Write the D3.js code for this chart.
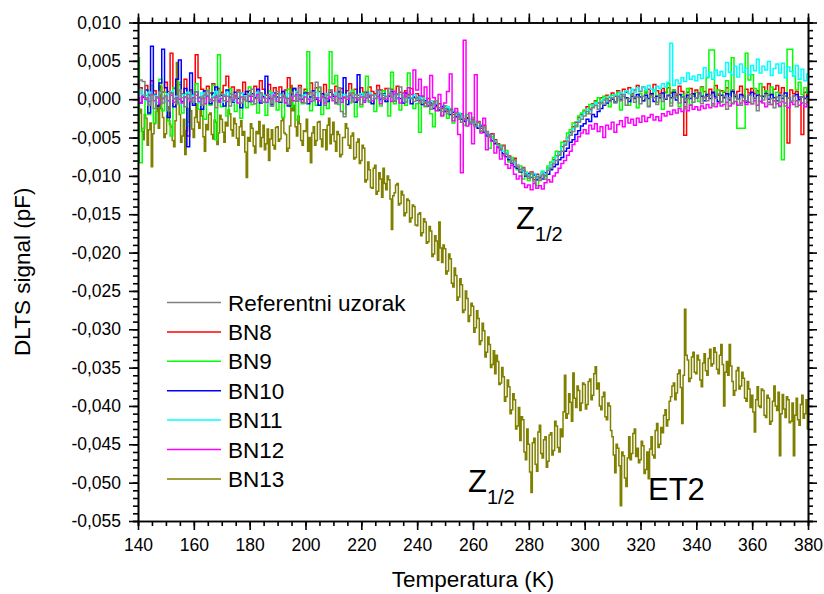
<!DOCTYPE html>
<html>
<head>
<meta charset="utf-8">
<script src="https://cdn.jsdelivr.net/npm/d3@7"></script>
<style>
  body { margin: 0; background: #fff; }
  svg { font-family: "Liberation Sans", Arial, sans-serif; }
  .axis path, .axis line { stroke: #000; stroke-width: 1.6; }
  .axis text { font-size: 17.5px; fill: #000; }
</style>
</head>
<body>
<div id="chart"></div>
<script>
// temperature grids (K): the sample set is read every 1 K, BN13 every 0.5 K
var temps = d3.range(140, 381, 1);
var tempsBN13 = d3.range(140, 380.5, 0.5);

// DLTS signal, in units of 0.001 pF
var refUzorak = [
  1.5, 2.5, 2.3, 0.2, -0.8, 0.5, -1.2, 0.3, 1.0, -0.5,
  0.4, -1.5, 0.8, 0.1, -0.6, 1.2, 0.2, -1.0, 0.6, 0.0,
  -0.4, 0.9, 0.3, -0.8, 0.5, 1.1, -0.3, 0.2, -1.1, 0.4,
  0.7, -0.2, 0.4, -0.9, 0.6, 0.1, 1.0, -0.5, 0.3, -0.2,
  0.5, 1.3, -0.6, 0.2, 0.8, -0.4, 0.1, 0.6, -0.9, 0.3,
  1.0, -0.3, 0.5, 0.2, -0.7, 0.9, 0.4, -0.2, 1.5, 0.1,
  -0.5, 0.6, 0.9, -0.2, 2.2, 1.6, 0.2, -0.8, 0.5, 1.2,
  0.1, -0.6, 1.5, -1.6, -2.3, 0.4, 0.8, -0.3, 0.6, 0.2,
  -0.7, 0.3, 1.0, -0.2, 0.5, 0.1, 1.2, 0.7, 0.0, 0.4,
  1.4, 0.3, -0.2, 0.6, 1.6, 0.2, -0.4, 0.5, 0.1, -0.3,
  0.2, -0.5, -0.1, -0.9, -0.4, -1.3, -0.6, -0.2, -1.1, -1.6,
  -1.2, -1.9, -1.5, -2.4, -1.8, -2.2, -3.0, -2.5, -2.0, -3.1,
  -2.8, -3.5, -3.0, -4.1, -3.6, -4.4, -5.0, -4.6, -5.6, -5.9,
  -6.5, -6.1, -7.2, -7.6, -8.3, -7.9, -8.8, -9.4, -9.0, -9.9,
  -10.3, -9.6, -10.8, -10.1, -10.6, -9.9, -10.4, -9.3, -9.0, -8.4,
  -8.0, -7.3, -6.8, -6.0, -5.5, -4.7, -4.2, -3.5, -3.0, -2.6,
  -2.2, -1.6, -1.9, -1.1, -0.8, -1.3, -0.4, -0.7, 0.1, -0.3,
  0.2, -0.5, 0.4, -0.2, 0.6, -0.8, 0.1, 0.5, -0.4, 0.3,
  -0.6, 0.4, 0.1, -1.0, 0.5, 0.2, -0.7, 0.6, -0.3, 0.1,
  0.4, -0.9, 0.2, 0.7, -0.5, 0.3, -1.2, 0.1, 0.6, -0.4,
  0.2, 0.8, -0.6, 0.3, -0.2, 0.5, -0.9, 0.1, 0.7, -0.3,
  0.4, -1.3, 0.2, -0.5, 0.6, 0.0, -0.8, 0.3, -0.2, 0.5,
  -0.6, 0.2, -1.5, 0.4, -0.1, 0.6, -0.7, 0.1, -1.1, 0.3,
  -0.4, 0.5, -0.9, 0.2, -0.3, 0.4, -1.0, -0.2, 0.3, -0.6,
  0.1
];
var bn8 = [
  0.8, 1.5, 0.3, 1.8, 0.5, 2.4, 1.1, 0.2, 1.6, 0.9,
  2.2, 1.0, 6.0, 1.4, 0.4, 1.9, 0.7, 2.6, -4.8, 1.2,
  0.6, 5.8, 2.8, 1.3, 0.2, 1.7, 0.8, 2.0, 0.5, 1.4,
  0.9, 1.8, 3.0, 0.7, 1.6, 0.3, 1.2, 0.8, 2.2, 0.6,
  1.1, 0.4, 1.7, 0.9, 2.4, 1.3, 0.5, 1.9, 0.8, 1.5,
  0.7, 1.6, 0.3, 1.2, 2.8, 0.6, 1.4, 0.9, 1.8, 0.4,
  1.3, 0.8, 2.1, 0.5, 1.5, 1.0, 0.3, 1.9, 0.7, 1.2,
  0.6, 1.7, 0.9, 1.4, 0.2, 1.1, 2.0, 0.8, 1.3, 0.5,
  1.5, 0.9, 0.4, 1.6, 1.0, 0.7, 1.8, 1.2, 0.5, 1.4,
  0.8, 1.3, 0.6, 1.7, 0.9, 0.3, 1.1, 0.6, 1.4, 0.2,
  0.7, -0.2, 0.4, -0.5, 0.1, -0.8, -0.3, -1.0, -0.6, -1.2,
  -0.9, -1.6, -1.3, -2.0, -1.7, -2.3, -1.9, -2.7, -2.4, -3.0,
  -2.6, -3.3, -2.9, -3.8, -3.4, -4.2, -4.8, -4.5, -5.3, -5.8,
  -6.2, -6.0, -7.0, -7.4, -8.0, -7.7, -8.6, -9.1, -8.9, -9.7,
  -10.0, -9.5, -10.5, -9.8, -10.2, -9.6, -9.9, -9.0, -8.6, -7.9,
  -7.4, -6.9, -6.2, -5.5, -5.0, -4.3, -3.6, -3.0, -2.4, -2.0,
  -1.5, -1.0, -1.3, -0.6, -0.2, -0.5, 0.2, -0.1, 0.5, 0.3,
  0.8, 0.4, 1.1, 0.6, 1.3, 0.9, 1.5, 0.7, 1.2, 1.8,
  1.0, 1.6, 0.8, 1.3, 0.6, 1.9, 1.1, 0.7, 1.4, 0.9,
  1.5, 0.8, 1.2, 0.5, 1.7, 1.0, -4.7, 0.9, 1.4, 0.6,
  1.2, 0.7, 1.6, 1.0, 0.4, 1.3, 0.8, 1.8, 0.5, 1.1,
  0.9, 1.5, 0.6, 1.2, 0.3, 1.0, 1.7, 0.5, 1.3, 0.8,
  1.4, 0.7, 1.1, 0.4, 1.6, 0.9, 2.0, 0.6, 1.3, 1.8,
  0.8, 1.5, 0.4, -5.7, 1.2, 0.7, 1.0, 0.3, -4.6, 0.9,
  0.5
];
var bn9 = [
  5.4, -8.3, -3.8, 0.5, -2.0, 1.8, -3.1, 0.2, 2.6, -1.5,
  0.9, -2.8, -4.8, 1.5, -0.6, 2.2, -1.8, 0.7, -3.5, 1.0,
  -0.5, 2.0, -1.3, 0.4, -2.6, 1.2, -0.8, 1.8, -5.3, 5.8,
  -1.0, 0.6, -2.2, 1.4, -0.3, -1.6, 0.9, -2.5, 0.3, -1.1,
  1.6, -0.7, 0.2, -1.8, 0.8, -0.4, -2.1, 1.1, -0.9, 0.4,
  -1.4, 0.7, -2.4, 0.3, 1.3, -1.0, -0.2, -2.7, 0.5, -0.6,
  1.0, 6.2, -1.5, 0.2, -0.8, 1.5, -2.0, 0.6, -1.2, 6.2,
  2.0, 3.1, -0.7, 0.9, -1.9, 0.3, -0.5, 1.2, -2.3, 0.1,
  -1.0, 0.8, 3.0, -0.4, 0.5, -1.6, 0.2, -0.9, 1.1, -0.3,
  -2.2, 3.5, -0.6, 0.7, -1.4, 0.4, -0.8, 3.4, 0.2, -1.2,
  -0.6, -4.3, 0.3, -1.0, -0.3, -1.9, -3.6, -0.8, -1.5, -2.1,
  -0.9, -2.5, -1.2, -3.1, -1.8, -2.6, -2.0, -3.4, -2.7, -3.0,
  -2.4, -3.6, -3.1, -4.2, -3.7, -4.6, -6.4, -4.9, -5.5, -6.1,
  -6.0, -7.4, -6.7, -8.2, -7.6, -8.0, -9.2, -8.7, -10.4, -9.5,
  -10.6, -9.8, -10.2, -11.3, -10.0, -9.4, -10.1, -8.7, -8.2, -7.6,
  -6.8, -7.2, -5.6, -5.9, -4.4, -4.0, -3.1, -3.6, -2.2, -1.8,
  -1.4, -1.9, -0.7, -1.0, -0.3, 0.2, -0.6, 0.4, 0.0, -1.0,
  0.5, -0.3, 0.9, -1.4, 0.4, 0.1, -0.8, 0.6, 0.3, -1.1,
  0.7, -0.2, 1.0, -0.9, 0.3, 1.2, -0.4, 0.5, -1.3, 0.8,
  2.0, -0.5, 1.2, 0.3, -1.0, 0.6, 0.1, 1.4, -0.7, 0.4,
  0.9, -0.3, 1.5, 0.2, 2.8, 6.4, 6.4, 0.5, 1.2, -0.4,
  1.0, 2.4, 0.6, 5.4, 0.2, -3.8, -3.8, -3.8, 6.0, 2.5,
  3.2, 1.4, 0.8, 2.0, 0.3, 1.1, 0.5, 1.6, -0.2, 0.9,
  -1.0, -7.9, 0.4, 6.5, 6.5, 3.0, 1.2, 2.2, 0.6, 1.5,
  0.8
];
var bn10 = [
  1.0, -0.5, 0.3, 1.2, -1.8, 6.9, 0.6, -0.9, 2.1, 6.5,
  1.5, -2.4, 0.8, -1.0, 2.6, 5.1, -0.3, 1.4, -6.2, 3.4,
  -0.8, 0.9, 0.2, -1.3, 1.1, 0.4, -0.6, 0.8, 1.6, -0.2,
  0.5, -0.9, 1.2, 0.3, -0.4, 0.9, 0.1, -1.1, 0.6, 1.0,
  -0.3, 0.7, 0.2, 1.3, -0.5, 0.4, 3.0, 0.1, -0.7, 0.8,
  0.3, -0.4, 1.0, 0.2, -0.9, 0.6, 1.4, -0.2, 0.5, 0.0,
  0.8, -0.6, 0.3, 1.1, 0.0, -0.8, 0.7, 0.2, -0.3, 0.9,
  0.4, -0.5, 1.0, 0.1, 2.8, -0.7, 0.5, 0.2, -0.4, 3.2,
  0.6, -0.2, 0.9, 0.3, -0.6, 0.5, 1.2, 0.0, 0.7, -0.3,
  0.4, 1.0, -0.2, 0.6, 0.1, -0.5, 0.8, 0.2, -0.6, 0.3,
  -0.1, 0.4, -0.7, -0.2, -0.9, -0.5, -1.2, -0.8, -1.4, -1.0,
  -1.6, -1.3, -2.0, -1.7, -2.3, -2.0, -2.6, -2.9, -2.5, -3.2,
  -3.0, -3.4, -3.8, -3.5, -4.3, -4.8, -4.6, -5.4, -5.8, -6.3,
  -6.6, -7.1, -7.5, -7.9, -8.4, -8.8, -9.0, -9.5, -9.3, -10.0,
  -9.7, -10.2, -9.9, -10.5, -10.1, -10.4, -9.6, -9.8, -9.2, -8.8,
  -8.5, -7.9, -7.6, -6.8, -6.4, -5.6, -5.3, -4.6, -4.1, -3.5,
  -3.2, -2.6, -2.9, -2.0, -2.3, -1.6, -1.2, -0.8, -0.5, -0.2,
  0.0, -0.4, 0.3, -0.1, 0.5, 0.2, -0.3, 0.4, 0.1, 0.6,
  0.3, -0.2, 0.5, 0.1, 0.7, -0.3, 0.4, 0.2, 0.8, 0.0,
  0.5, 0.2, 0.9, -0.1, 0.6, 0.3, -0.4, 0.5, 0.1, 0.7,
  0.2, 0.8, 0.4, -0.2, 0.6, 0.1, 0.9, 0.3, -0.3, 0.5,
  0.2, 0.7, -0.1, 1.0, 0.4, 0.0, 0.6, 0.3, -0.4, 0.5,
  0.9, 0.1, 0.5, -0.3, 0.4, 0.7, 0.0, 0.6, 0.2, -0.2,
  0.5, 0.1, 0.8, 0.2, -0.3, 0.4, 0.6, 0.0, 0.3, 0.1,
  0.4
];
var bn11 = [
  0.3, 1.2, 0.6, -0.2, 0.9, 0.1, 0.5, -0.4, 0.8, 0.2,
  -0.3, 0.7, 1.0, 0.0, 0.4, -0.6, 0.6, 0.2, 0.9, -0.1,
  0.5, 0.1, -0.5, 0.8, 0.3, 0.6, -0.2, 0.4, 1.0, 0.2,
  -0.4, 0.5, 0.9, 0.1, 0.6, -0.3, 0.3, 0.8, 0.0, 0.4,
  0.7, -0.2, 0.4, 0.9, 0.1, 0.5, -0.5, 0.3, 0.8, 0.2,
  0.0, 0.6, 0.3, -0.4, 0.7, 0.2, 0.5, 1.0, -0.1, 0.4,
  0.6, 0.1, -0.3, 0.5, 0.9, 0.2, 0.4, -0.2, 0.7, 0.3,
  0.1, 0.8, 0.4, -0.1, 0.6, 0.3, 0.9, 0.0, 0.5, 0.2,
  0.7, -0.3, 0.4, 0.8, 0.1, 0.5, 0.2, -0.2, 0.6, 0.3,
  0.9, 0.2, 0.5, 0.0, 0.6, 0.3, -0.3, 0.4, 0.1, 0.6,
  0.0, 0.3, -0.4, 0.1, -0.6, -0.2, -0.9, -0.5, -1.1, -0.8,
  -1.3, -1.0, -1.7, -1.4, -2.1, -1.8, -2.4, -2.2, -2.8, -2.6,
  -3.1, -2.9, -3.5, -3.3, -4.0, -4.3, -4.7, -5.1, -5.5, -6.0,
  -6.2, -6.8, -7.0, -7.6, -7.9, -8.3, -8.7, -9.0, -9.4, -9.6,
  -9.9, -10.1, -9.7, -10.3, -10.0, -9.5, -9.8, -9.1, -8.6, -8.1,
  -7.5, -7.0, -6.3, -5.8, -5.1, -4.5, -3.9, -3.3, -2.8, -2.2,
  -1.8, -1.3, -1.5, -0.8, -0.5, -0.9, -0.2, 0.1, -0.3, 0.4,
  0.2, 0.6, 0.3, 0.9, 0.5, 1.1, 0.7, 1.3, 0.9, 1.5,
  1.1, 1.6, 1.2, 1.8, 1.3, 1.0, 1.7, 1.4, 2.0, 1.6,
  2.2, 7.3, 1.8, 2.5, 2.0, 2.8, 2.3, 3.4, 2.6, 3.0,
  2.4, 3.2, 2.7, 4.1, 2.9, 3.5, 2.6, 3.8, 3.1, 3.6,
  3.0, 4.8, 3.5, 3.2, 4.3, 2.9, 4.6, 3.5, 4.0, 3.2,
  4.4, 3.7, 5.2, 3.4, 4.3, 3.8, 4.9, 3.1, 4.0, 4.6,
  3.4, 4.7, 2.8, 4.2, 3.6, 3.0, 4.4, 2.6, 3.9, 2.4,
  3.3
];
var bn12 = [
  0.2, -0.5, 0.4, 0.0, -0.3, 0.6, -0.2, 0.3, -0.6, 0.1,
  0.4, -0.2, 0.5, -0.4, 0.2, 0.0, -0.5, 0.3, 0.1, -0.3,
  0.2, 0.5, -0.3, 0.1, -0.6, 0.4, 0.0, -0.2, 0.3, -0.4,
  0.1, 0.4, -0.3, 0.2, -0.1, 0.5, -0.5, 0.3, 0.0, -0.2,
  0.4, -0.3, 0.1, 0.6, -0.2, 0.2, -0.4, 0.3, 0.0, 0.5,
  -0.3, 0.2, 0.4, -0.5, 0.1, 0.3, -0.2, 0.6, 0.0, -0.4,
  0.3, 0.0, -0.3, 0.5, 0.2, -0.2, 0.4, -0.5, 0.1, 0.3,
  -0.2, 0.4, 0.1, -0.4, 0.3, 0.0, 0.5, -0.3, 0.2, -0.1,
  0.3, -0.4, 0.2, 0.5, -0.2, 0.1, 0.4, -0.6, 0.2, 0.0,
  0.5, -0.3, 1.0, 0.2, -0.5, 0.8, 0.3, 1.5, 0.6, 3.8,
  1.2, 2.6, 0.4, 1.6, -0.8, 3.1, 0.2, -1.5, 0.6, -2.2,
  -0.5, 1.0, 3.3, -2.8, -1.2, -4.6, -9.6, 7.7, -3.5, -1.8,
  -5.8, 3.2, -3.0, -4.4, -2.5, -6.6, -4.8, -5.5, -7.0, -6.2,
  -7.8, -7.2, -8.5, -9.0, -8.6, -9.8, -10.4, -10.0, -11.0, -11.5,
  -11.2, -11.8, -11.0, -11.6, -11.3, -11.7, -10.9, -10.5, -10.8, -10.0,
  -9.6, -9.0, -8.4, -8.0, -7.3, -6.8, -5.9, -5.5, -4.9, -4.4,
  -4.0, -4.5, -3.4, -3.9, -3.2, -4.2, -3.6, -5.0, -3.4, -3.9,
  -3.0, -4.3, -3.3, -2.8, -3.6, -2.4, -3.1, -2.6, -3.4, -2.5,
  -3.0, -2.2, -2.9, -2.4, -2.0, -2.7, -2.3, -2.8, -1.9, -2.2,
  -1.6, -2.0, -1.4, -1.8, -1.2, -1.6, -1.0, -1.5, -0.8, -1.3,
  -1.0, -1.4, -0.9, -1.2, -0.7, -1.1, -0.6, -1.0, -0.5, -0.9,
  -0.7, -0.4, -0.9, -0.6, -0.3, -0.8, -0.5, -0.2, -0.7, -0.4,
  -0.6, -0.2, -0.8, -0.3, -0.5, -1.0, -0.4, -0.7, -0.2, -0.6,
  -0.9, -0.3, -0.5, -1.1, -0.4, -0.7, -0.2, -0.8, -0.5, -1.0,
  -0.4
];
var bn13 = [
  -3.0, -1.8, -1.3, -4.2, -5.3, -2.0, -2.5, -6.0, -4.0, -3.1, -8.8, -4.5, -3.2, -1.6, -0.8, -3.8, 1.8, -1.2, -2.4, -5.0,
  -4.5, -2.2, -1.0, -3.3, -3.6, -5.4, -6.2, -2.8, 4.8, -0.5, -2.0, -5.6, -4.8, -2.6, -7.2, -4.1, -3.0, -1.2, -1.5, -3.9,
  -5.0, -2.4, -0.6, -3.0, -3.8, -1.5, -2.2, -4.9, -6.8, -3.3, -4.0, -2.0, -1.8, -4.6, -5.2, -2.7, -3.0, -5.9, -4.4, -2.1,
  -2.6, -4.3, -5.6, -3.0, -3.5, -1.4, -1.9, -4.0, -4.8, -2.5, -3.2, -5.1, -6.0, -3.6, -2.8, -4.7, -4.2, -6.9, -10.2, -5.0,
  -5.5, -3.2, -3.8, -6.1, -7.0, -4.2, -4.5, -2.9, -6.2, -5.0, -3.4, -6.6, -5.8, -3.9, -8.0, -5.2, -4.0, -6.0, -6.5, -3.7,
  -3.6, -5.5, -5.2, -2.8, -2.4, -4.4, -4.6, -6.8, -6.4, -3.5, 1.8, -1.5, -0.8, -3.6, -4.8, -2.2, -3.2, -5.4, -6.0, -4.1,
  -4.2, -2.6, -6.8, -5.0, -8.3, -4.4, -3.6, -6.0, -5.4, -3.0, -2.9, -5.2, -6.2, -4.0, -4.0, -6.6, -3.4, -2.5, -5.8, -4.6,
  -3.0, -5.5, -6.8, -4.2, -4.6, -7.5, -7.2, -5.0, -5.0, -3.2, -3.8, -6.0, -6.4, -4.8, -4.4, -7.8, -7.6, -5.6, -5.2, -8.4,
  -8.0, -6.0, -6.4, -10.8, -10.5, -8.2, -9.2, -11.5, -11.6, -9.0, -8.6, -12.4, -12.0, -9.6, -10.4, -12.8, -9.0, -11.0, -11.8, -10.0,
  -10.5, -13.0, -17.0, -12.6, -12.2, -11.2, -11.0, -13.8, -13.6, -12.0, -12.5, -15.2, -14.8, -13.0, -13.2, -16.0, -15.5, -13.8, -14.0, -16.4,
  -16.5, -15.0, -14.8, -17.8, -17.4, -15.6, -16.0, -18.8, -18.6, -16.6, -17.2, -20.5, -20.2, -17.8, -18.5, -21.0, -16.0, -19.4, -21.3, -19.0,
  -19.5, -22.8, -22.4, -20.2, -20.8, -24.0, -24.5, -22.0, -23.0, -26.2, -25.8, -23.4, -24.2, -27.8, -27.5, -25.0, -26.0, -29.0, -28.2, -26.6,
  -27.0, -30.4, -29.8, -27.6, -28.6, -32.0, -31.5, -29.2, -30.2, -33.6, -33.0, -31.0, -32.0, -35.0, -34.6, -32.8, -35.8, -33.4, -34.2, -37.2,
  -37.0, -35.0, -36.2, -39.4, -38.8, -36.6, -37.5, -41.0, -40.5, -38.4, -39.2, -43.0, -42.6, -40.2, -44.5, -41.4, -41.8, -46.0, -47.0, -43.0,
  -45.0, -48.6, -51.3, -44.8, -44.2, -47.6, -48.5, -43.4, -42.5, -46.2, -46.8, -44.4, -44.0, -48.0, -47.2, -43.8, -43.5, -46.4, -45.8, -42.0,
  -42.6, -45.4, -46.0, -43.0, -44.0, -40.8, -36.0, -41.6, -41.0, -38.4, -39.5, -42.0, -35.7, -39.0, -40.2, -37.4, -38.0, -40.6, -39.6, -37.0,
  -37.2, -40.4, -39.8, -36.8, -36.5, -39.2, -38.6, -35.8, -34.9, -37.8, -37.0, -40.0, -40.5, -38.8, -38.2, -41.4, -41.8, -39.6, -40.0, -43.2,
  -44.0, -46.4, -48.7, -45.0, -45.5, -47.8, -53.0, -46.0, -46.5, -49.4, -50.5, -46.8, -44.0, -47.0, -46.2, -43.6, -43.0, -46.6, -45.5, -47.4,
  -47.0, -44.6, -45.2, -48.8, -48.3, -46.0, -49.5, -45.6, -44.0, -46.4, -46.8, -43.2, -42.3, -45.4, -45.0, -42.8, -43.5, -41.2, -40.5, -42.6,
  -41.8, -39.4, -38.8, -37.4, -37.0, -39.2, -38.3, -35.8, -35.3, -37.6, -42.3, -36.0, -27.4, -33.4, -34.0, -36.8, -36.4, -33.6, -33.0, -35.6,
  -35.8, -33.4, -34.0, -36.6, -37.5, -34.4, -33.2, -35.4, -36.0, -33.8, -32.6, -34.8, -34.5, -32.4, -33.0, -35.2, -35.8, -33.4, -32.0, -34.6,
  -40.0, -35.6, -34.2, -36.0, -32.0, -34.8, -36.8, -38.6, -38.0, -35.4, -35.0, -37.8, -37.4, -35.6, -36.4, -39.0, -39.4, -36.8, -37.8, -40.2,
  -38.6, -40.8, -43.4, -39.2, -37.5, -40.0, -40.2, -37.8, -38.0, -41.2, -41.5, -38.6, -39.0, -42.4, -42.0, -39.4, -37.4, -40.0, -40.6, -38.2,
  -46.5, -41.0, -38.5, -40.4, -41.5, -38.8, -39.2, -42.2, -42.0, -39.6, -46.5, -41.2, -39.0, -41.8, -42.5, -39.8, -38.6, -41.6, -41.0, -39.2,
  -43.0
];

var seriesNames = ["Referentni uzorak", "BN8", "BN9", "BN10", "BN11", "BN12", "BN13"];
var seriesValues = [refUzorak, bn8, bn9, bn10, bn11, bn12, bn13];
var seriesTemps = [temps, temps, temps, temps, temps, temps, tempsBN13];
var seriesColors = ["#808080", "#ff0000", "#00ff00", "#0000ff", "#00ffff", "#ff00ff", "#808000"];
// drawing order: BN13 at the back, reference sample on top
var drawOrder = [6, 1, 2, 3, 4, 5, 0];

var xTicks = d3.range(140, 381, 20);
var yTicks = d3.range(-55, 11, 5);

var svgWidth = 824;
var svgHeight = 594;
var margin = {top: 22.5, right: 16, bottom: 73, left: 138};
var chartWidth = svgWidth - margin.left - margin.right;
var chartHeight = svgHeight - margin.top - margin.bottom;

var svg = d3.select("#chart")
    .append("svg")
    .attr("width", svgWidth)
    .attr("height", svgHeight);

var chartGroup = svg.append("g")
    .attr("transform", `translate(${margin.left},${margin.top})`);

var xScale = d3.scaleLinear().domain([140, 380]).range([0, chartWidth]);
var yScale = d3.scaleLinear().domain([-55, 10]).range([chartHeight, 0]);

var fmtY = v => (v / 1000).toFixed(3).replace(".", ",");

chartGroup.append("clipPath").attr("id", "clip")
  .append("rect").attr("width", chartWidth).attr("height", chartHeight);

var plot = chartGroup.append("g").attr("clip-path", "url(#clip)");
drawOrder.forEach(function(k) {
  var tk = seriesTemps[k];
  var lineGen = d3.line()
      .x((d, i) => xScale(tk[i]))
      .y(d => yScale(d))
      .curve(d3.curveStep);
  plot.append("path")
    .datum(seriesValues[k])
    .attr("fill", "none")
    .attr("stroke", seriesColors[k])
    .attr("stroke-width", 1.5)
    .attr("d", lineGen);
});

// minor ticks
var minorX = d3.range(140, 381, 5);
var minorY = d3.range(-55, 11, 1);
chartGroup.append("g").attr("class", "axis")
  .attr("transform", `translate(0,${chartHeight})`)
  .call(d3.axisBottom(xScale).tickValues(minorX).tickSize(5).tickFormat(""));
chartGroup.append("g").attr("class", "axis")
  .call(d3.axisTop(xScale).tickValues(minorX).tickSize(5).tickFormat(""));
chartGroup.append("g").attr("class", "axis")
  .call(d3.axisLeft(yScale).tickValues(minorY).tickSize(5).tickFormat(""));
chartGroup.append("g").attr("class", "axis")
  .attr("transform", `translate(${chartWidth},0)`)
  .call(d3.axisRight(yScale).tickValues(minorY).tickSize(5).tickFormat(""));

// major ticks
chartGroup.append("g").attr("class", "axis")
  .attr("transform", `translate(0,${chartHeight})`)
  .call(d3.axisBottom(xScale).tickValues(xTicks).tickSize(9).tickSizeOuter(0).tickPadding(9));
chartGroup.append("g").attr("class", "axis")
  .call(d3.axisTop(xScale).tickValues(xTicks).tickSize(9).tickSizeOuter(0).tickFormat(""));
chartGroup.append("g").attr("class", "axis")
  .call(d3.axisLeft(yScale).tickValues(yTicks).tickSize(9).tickSizeOuter(0).tickPadding(8).tickFormat(fmtY));
chartGroup.append("g").attr("class", "axis")
  .attr("transform", `translate(${chartWidth},0)`)
  .call(d3.axisRight(yScale).tickValues(yTicks).tickSize(9).tickSizeOuter(0).tickFormat(""));

// axis titles
chartGroup.append("text")
  .attr("x", chartWidth / 2)
  .attr("y", chartHeight + 66)
  .attr("text-anchor", "middle")
  .style("font-size", "22.5px")
  .text("Temperatura (K)");

chartGroup.append("text")
  .attr("transform", "rotate(-90)")
  .attr("x", -chartHeight / 2)
  .attr("y", -margin.left + 30)
  .attr("text-anchor", "middle")
  .style("font-size", "22.5px")
  .text("DLTS signal (pF)");

// legend
var legend = svg.append("g").attr("transform", "translate(167,302.5)");
seriesNames.forEach(function(name, i) {
  var row = legend.append("g").attr("transform", `translate(0,${i * 29.4})`);
  row.append("line").attr("x1", 0).attr("x2", 54).attr("y1", 0).attr("y2", 0)
    .attr("stroke", seriesColors[i]).attr("stroke-width", 1.5);
  row.append("text").attr("x", 61).attr("y", 8).style("font-size", "22.5px").text(name);
});

// peak labels
function peakLabel(x, y, main, sub) {
  var t = svg.append("text").attr("x", x).attr("y", y).style("font-size", "31px");
  t.append("tspan").text(main);
  if (sub) t.append("tspan").attr("dy", 12).style("font-size", "20px").text(sub);
}
peakLabel(516, 229, "Z", "1/2");
peakLabel(468, 492, "Z", "1/2");
peakLabel(648, 500, "ET2");
</script>
</body>
</html>
